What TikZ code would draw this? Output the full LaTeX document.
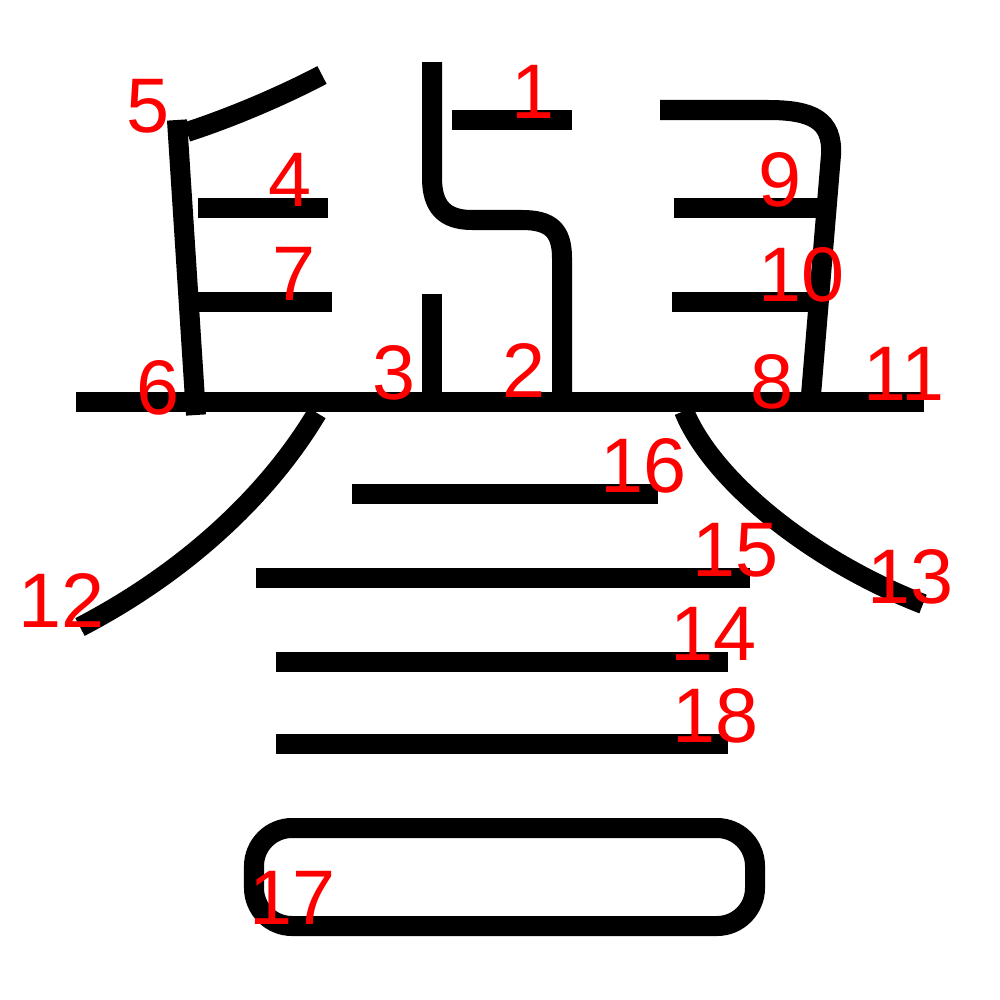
\documentclass[tikz,border=0pt]{standalone}
\usepackage{fontspec}
\setmainfont{Liberation Sans}
\begin{document}
\begin{tikzpicture}[x=0.01cm,y=-0.01cm,
  stroke/.style={draw,line width=0.2cm},
  num/.style={text=red,inner sep=0pt,font=\fontsize{22}{22}\selectfont}]
\useasboundingbox (0,0) rectangle (1000,1000);
\path[stroke] (452,120) -- (572,120);
\path[stroke] (432,62) -- (432,178) .. controls (432,206) and (444,220) .. (472,220) -- (522,220) .. controls (550,220) and (562,230) .. (562,258) -- (562,395);
\path[stroke] (432,294) -- (432,395);
\path[stroke] (198,208) -- (328,208);
\path[stroke] (322,75) .. controls (280,97) and (230,118) .. (187,132);
\path[stroke] (177,120) -- (196,415);
\path[stroke] (196,302) -- (332,302);
\path[stroke] (660,110) -- (768,110) .. controls (812,110) and (833,120) .. (831,155) -- (811,395);
\path[stroke] (674,208) -- (820,208);
\path[stroke] (672,302) -- (812,302);
\path[stroke] (76,402) -- (924,402);
\path[stroke] (317,413) .. controls (265,500) and (180,575) .. (80,627);
\path[stroke] (684,411) .. controls (712,480) and (810,560) .. (923,604);
\path[stroke] (276,662) -- (728,662);
\path[stroke] (256,578) -- (750,578);
\path[stroke] (352,494) -- (658,494);
\path[stroke,rounded corners=0.38cm] (254,828) rectangle (755,926);
\path[stroke] (276,744) -- (728,744);
\node[num] (1) at (533,92) {1};
\node[num] (2) at (524,370) {2};
\node[num] (3) at (394,373) {3};
\node[num] (4) at (290,180) {4};
\node[num] (5) at (148,106) {5};
\node[num] (6) at (158,388) {6};
\node[num] (7) at (294,274) {7};
\node[num] (8) at (772,382) {8};
\node[num] (9) at (780,180) {9};
\node[num] (10) at (802,275) {10};
\node[num] (11) at (904,374) {11};
\node[num] (12) at (62,600) {12};
\node[num] (13) at (911,577) {13};
\node[num] (14) at (714,634) {14};
\node[num] (15) at (736,550) {15};
\node[num] (16) at (644,466) {16};
\node[num] (17) at (293,898) {17};
\node[num] (18) at (716,716) {18};
\end{tikzpicture}
\end{document}
